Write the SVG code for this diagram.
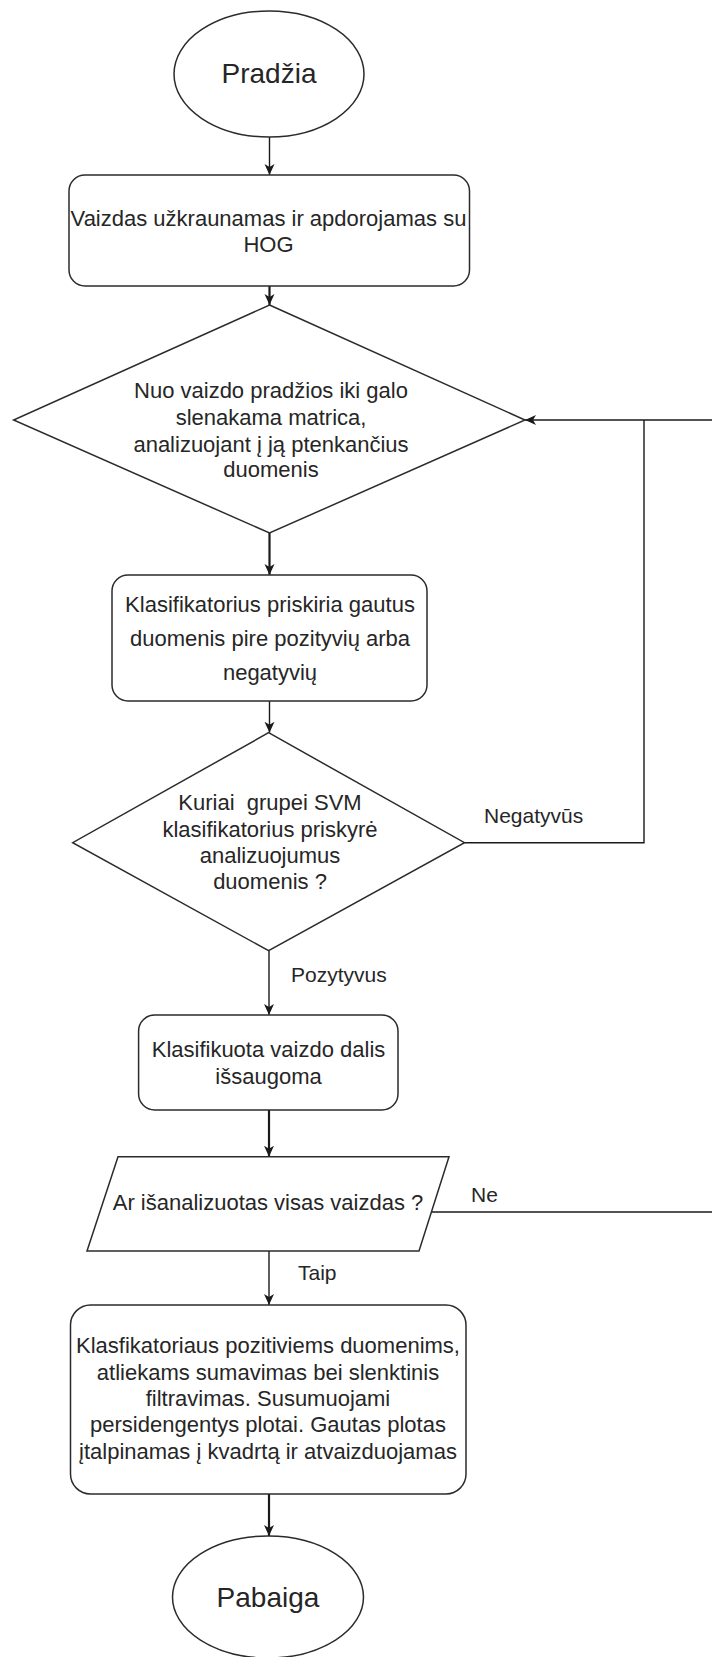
<svg xmlns="http://www.w3.org/2000/svg" width="712" height="1657" viewBox="0 0 712 1657">
<defs>
<style>
.shape{fill:#ffffff;stroke:#2b2b2b;stroke-width:1.5}
.c{fill:none;stroke:#1a1a1a;stroke-width:1.4}
.ct{fill:none;stroke:#1a1a1a;stroke-width:2.2}
text{font-family:"Liberation Sans",Arial,Helvetica,sans-serif;fill:#262626;text-anchor:middle}
.t{font-size:22px}
.big{font-size:28px}
.lbl{font-size:21px;text-anchor:start}
.pre{white-space:pre}
</style>
<marker id="arr" markerWidth="12" markerHeight="12" refX="11" refY="5" orient="auto" markerUnits="userSpaceOnUse">
<path d="M0,0 L11,5 L0,10 L3,5 Z" fill="#1a1a1a"/>
</marker>
</defs>
<rect width="712" height="1657" fill="#ffffff"/>
<g id="connectors">
<path class="c" d="M269.5,137 V175" marker-end="url(#arr)"/>
<path class="ct" d="M269.5,286 V305" marker-end="url(#arr)"/>
<path class="ct" d="M269.5,533 V575" marker-end="url(#arr)"/>
<path class="c" d="M269.5,701 V732.7" marker-end="url(#arr)"/>
<path class="c" d="M464.5,842.7 H644 V420"/>
<path class="c" d="M431.5,1212 H740 V420 H525" marker-end="url(#arr)"/>
<path class="c" d="M269,950.7 V1015" marker-end="url(#arr)"/>
<path class="ct" d="M269,1110 V1156.7" marker-end="url(#arr)"/>
<path class="c" d="M269,1251 V1305" marker-end="url(#arr)"/>
<path class="ct" d="M269,1494 V1536" marker-end="url(#arr)"/>
<text class="lbl" x="484" y="823">Negatyvūs</text>
<text class="lbl" x="291" y="981.5">Pozytyvus</text>
<text class="lbl" x="471" y="1201.5">Ne</text>
<text class="lbl" x="298" y="1280">Taip</text>
</g>
<g id="start">
<ellipse class="shape" cx="269" cy="74" rx="95" ry="63"/>
<text class="big" x="269" y="83">Pradžia</text>
</g>
<g id="load">
<rect class="shape" x="69" y="175" width="400.5" height="111" rx="16" ry="16"/>
<text class="t" x="268.5" y="226">Vaizdas užkraunamas ir apdorojamas su</text>
<text class="t" x="268.5" y="252">HOG</text>
</g>
<g id="slide">
<polygon class="shape" points="269.5,305 525,420 269.5,533 13.6,420"/>
<text class="t" x="271" y="398">Nuo vaizdo pradžios iki galo</text>
<text class="t" x="271" y="425">slenakama matrica,</text>
<text class="t" x="271" y="451.5">analizuojant į ją ptenkančius</text>
<text class="t" x="271" y="477">duomenis</text>
</g>
<g id="classify">
<rect class="shape" x="112" y="575" width="315" height="126" rx="16" ry="16"/>
<text class="t" x="270" y="611.5">Klasifikatorius priskiria gautus</text>
<text class="t" x="270" y="646">duomenis pire pozityvių arba</text>
<text class="t" x="270" y="680">negatyvių</text>
</g>
<g id="decision">
<polygon class="shape" points="268.6,732.7 464.5,842.7 268.6,950.7 72.7,842.7"/>
<text class="t pre" x="270" y="810" xml:space="preserve">Kuriai  grupei SVM</text>
<text class="t" x="270" y="836.5">klasifikatorius priskyrė</text>
<text class="t" x="270" y="863">analizuojumus</text>
<text class="t" x="270" y="888.5">duomenis ?</text>
</g>
<g id="save">
<rect class="shape" x="138.6" y="1015" width="259.4" height="95" rx="16" ry="16"/>
<text class="t" x="268.5" y="1057">Klasifikuota vaizdo dalis</text>
<text class="t" x="268.5" y="1083.5">išsaugoma</text>
</g>
<g id="check">
<polygon class="shape" points="118,1156.7 449,1156.7 419,1251 87,1251"/>
<text class="t" x="268" y="1210">Ar išanalizuotas visas vaizdas ?</text>
</g>
<g id="result">
<rect class="shape" x="70.5" y="1305" width="395.5" height="189" rx="20" ry="20"/>
<text class="t" x="268" y="1353">Klasfikatoriaus pozitiviems duomenims,</text>
<text class="t" x="268" y="1379.5">atliekams sumavimas bei slenktinis</text>
<text class="t" x="268" y="1405.5">filtravimas. Susumuojami</text>
<text class="t" x="268" y="1432">persidengentys plotai. Gautas plotas</text>
<text class="t" x="268" y="1458.5">įtalpinamas į kvadrtą ir atvaizduojamas</text>
</g>
<g id="end">
<ellipse class="shape" cx="268" cy="1597" rx="95.5" ry="61"/>
<text class="big" x="268" y="1607">Pabaiga</text>
</g>
</svg>
